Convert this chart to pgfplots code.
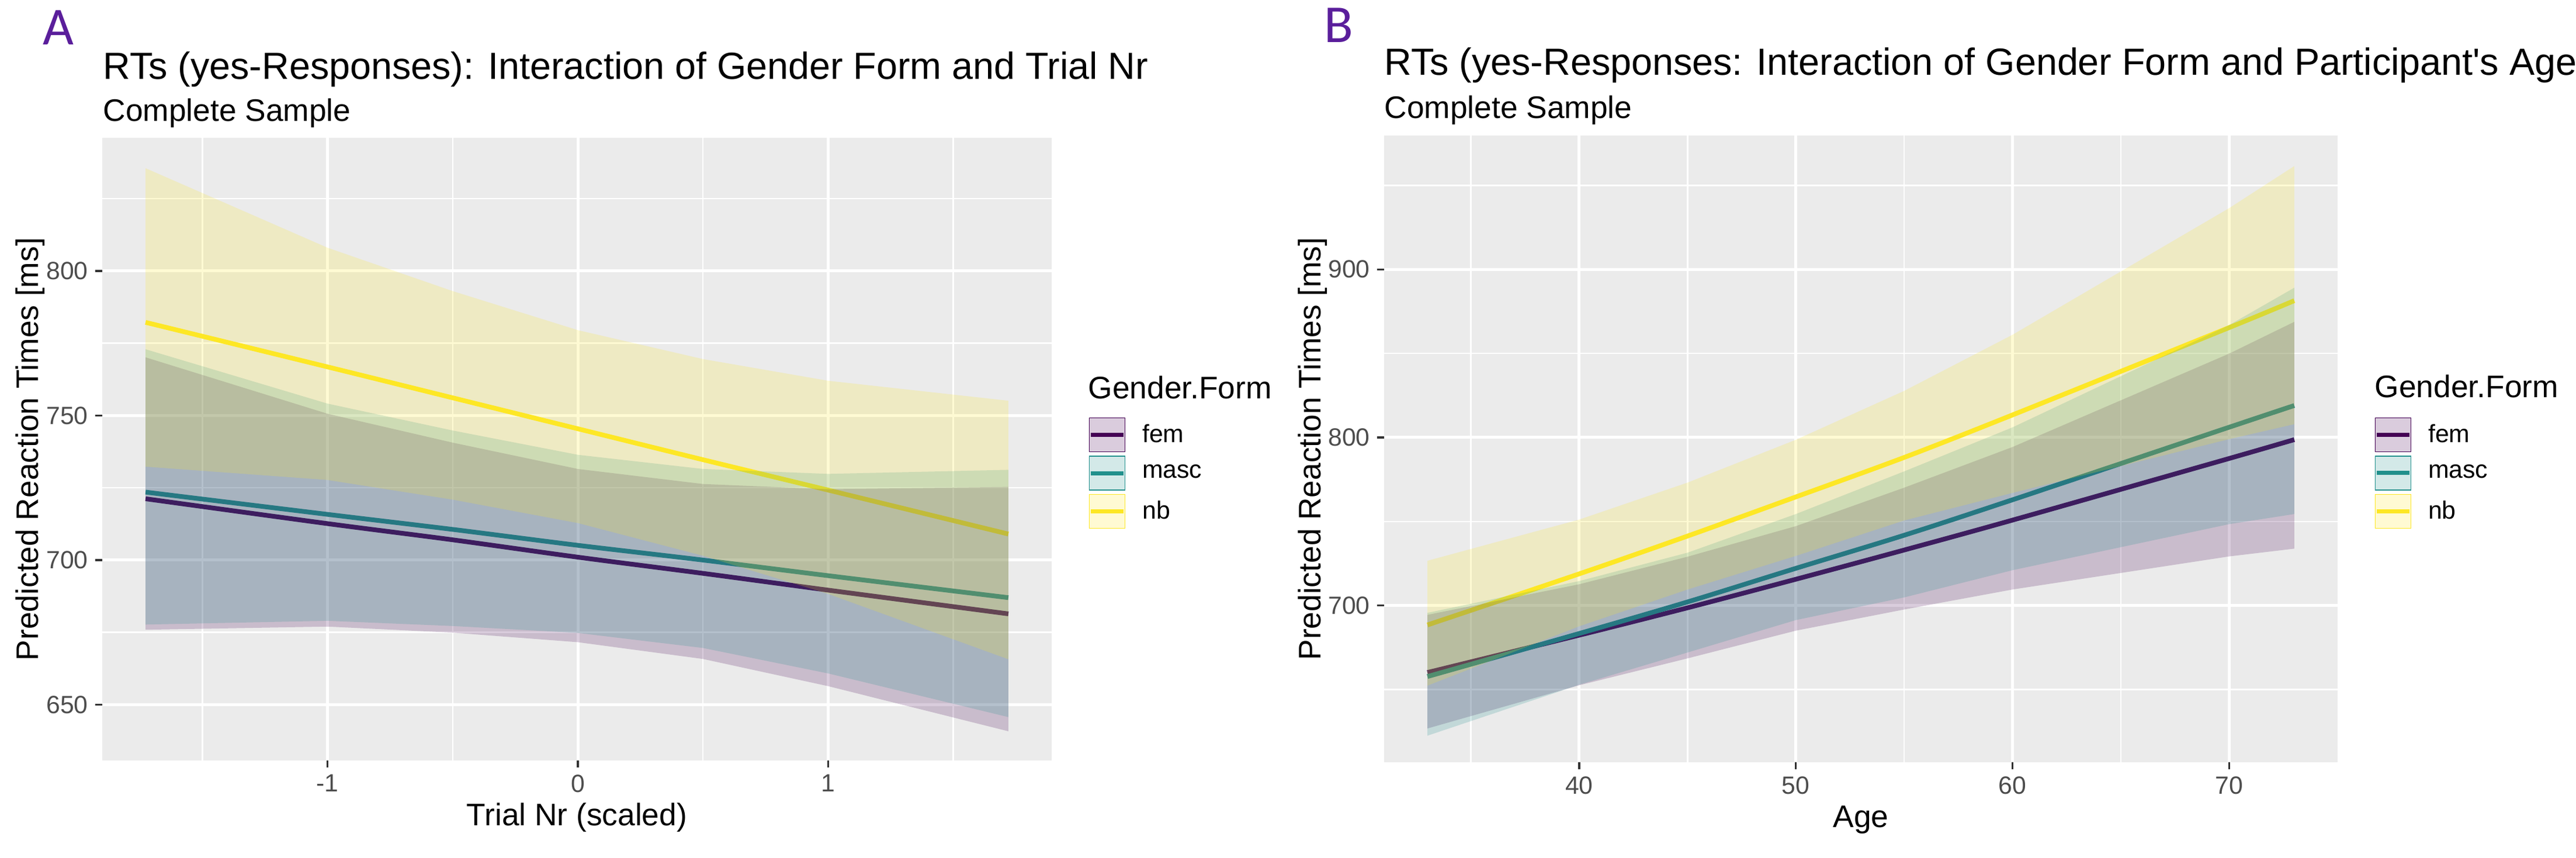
\documentclass[border=0pt]{standalone}
\usepackage{fontspec}
\setmainfont{Liberation Sans}[Ligatures=TeXOff]
\newfontfamily\tagfont{Carlito}
\usepackage{pgfplots}
\pgfplotsset{compat=1.18}
\definecolor{femc}{HTML}{440154}
\definecolor{mascc}{HTML}{21908C}
\definecolor{nbc}{HTML}{FDE725}
\definecolor{panelbg}{HTML}{EBEBEB}
\definecolor{tickc}{HTML}{333333}
\definecolor{ticklab}{HTML}{4D4D4D}
\definecolor{tagc}{HTML}{5A1E9B}

\pgfplotsset{
  ggstyle/.style={
    scale only axis, anchor=south west,
    axis background/.style={fill=panelbg},
    axis line style={draw=none},
    grid=both,
    major grid style={white, line width=0.5mm},
    minor grid style={white, line width=0.25mm},
    tick align=outside,
    xtick pos=left, ytick pos=left,
    major tick length=1.2mm, minor tick length=0pt,
    major tick style={color=tickc, line width=0.35mm},
    tick label style={font=\fontsize{12.15}{14}\selectfont, color=ticklab},
    /pgf/number format/assume math mode=true,
    label style={font=\fontsize{15.17}{17}\selectfont},
    xlabel style={at={([yshift=-11.1mm]axis description cs:0.5,0)}, anchor=base},
    ylabel style={at={([xshift=-10.9mm]axis description cs:0,0.5)}, anchor=base},
    legend style={draw=none, fill=none, inner sep=0pt, outer sep=0pt,
      anchor=north west, row sep=0.6mm,
      font=\fontsize{12.15}{14}\selectfont, nodes={inner sep=0pt}},
    legend cell align=left,
  },
  bandstyle/.style={draw=none, fill=#1, fill opacity=0.2, forget plot},
  linestyle/.style={draw=#1, line width=0.8mm, smooth, forget plot},
  keyfem/.style={legend image code/.code={
    \fill[femc, fill opacity=0.2] (0mm,-2.9mm) rectangle (6.07mm,2.9mm);
    \draw[femc, line width=0.7mm] (0.2mm,0mm) -- (5.87mm,0mm);
    \path (9.0mm,0mm);}},
  keymasc/.style={legend image code/.code={
    \fill[mascc, fill opacity=0.2] (0mm,-2.9mm) rectangle (6.07mm,2.9mm);
    \draw[mascc, line width=0.7mm] (0.2mm,0mm) -- (5.87mm,0mm);
    \path (9.0mm,0mm);}},
  keynb/.style={legend image code/.code={
    \fill[nbc, fill opacity=0.2] (0mm,-2.9mm) rectangle (6.07mm,2.9mm);
    \draw[nbc, line width=0.7mm] (0.2mm,0mm) -- (5.87mm,0mm);
    \path (9.0mm,0mm);}},
}

\begin{document}
\begin{tikzpicture}
\useasboundingbox (0,0) rectangle (440.9mm,-146.9mm);

% ---------- Panel A ----------
\node[anchor=base west, inner sep=0pt, text=tagc, font=\tagfont\fontsize{26}{28}\selectfont] at (7.3mm,-7.6mm) {A};
\node[anchor=base west, inner sep=0pt, font=\fontsize{18.4}{20}\selectfont] at (17.6mm,-13.5mm) {RTs (yes-Responses): Interaction of Gender Form and Trial Nr};
\node[anchor=base west, inner sep=0pt, font=\fontsize{15.17}{17}\selectfont] at (17.6mm,-20.7mm) {Complete Sample};
\node[anchor=base west, inner sep=0pt, font=\fontsize{15.17}{17}\selectfont] at (186.2mm,-68.2mm) {Gender.Form};

\begin{axis}[ggstyle,
  at={(17.5mm,-130.2mm)}, width=162.5mm, height=106.6mm,
  xmin=-1.90, xmax=1.893, ymin=630.7, ymax=846.0,
  xtick={-1,0,1}, minor xtick={-1.5,-0.5,0.5,1.5},
  ytick={650,700,750,800}, minor ytick={675,725,775,825},
  xlabel={Trial Nr (scaled)}, ylabel={Predicted Reaction Times [ms]},
  legend style={at={(1.0388,0.5507)}},
]
\addlegendimage{keyfem}\addlegendentry{fem}
\addlegendimage{keymasc}\addlegendentry{masc}
\addlegendimage{keynb}\addlegendentry{nb}
% lines
\addplot[linestyle=femc] coordinates {(-1.727,721.2) (-1,712.6) (-0.5,707.0) (0,701.0) (0.5,695.4) (1,689.6) (1.72,681.4)};
\addplot[linestyle=mascc] coordinates {(-1.727,723.5) (-1,715.8) (-0.5,710.6) (0,705.1) (0.5,700.0) (1,694.6) (1.72,687.0)};
\addplot[linestyle=nbc] coordinates {(-1.727,782.2) (-1,766.8) (-0.5,756.1) (0,745.4) (0.5,734.7) (1,724.2) (1.72,709.0)};
% ribbons (upper forward, lower backward)
\addplot[bandstyle=femc] coordinates {(-1.727,770.1) (-1,750.6) (-0.5,740.6) (0,731.5) (0.5,726.3) (1,724.5) (1.72,725.3)
  (1.72,640.8) (1,656.4) (0.5,665.8) (0,671.6) (-0.5,674.9) (-1,677.0) (-1.727,675.9)} -- cycle;
\addplot[bandstyle=mascc] coordinates {(-1.727,772.9) (-1,754.1) (-0.5,744.8) (0,736.4) (0.5,731.5) (1,729.8) (1.72,731.2)
  (1.72,645.7) (1,660.8) (0.5,669.6) (0,674.8) (-0.5,677.2) (-1,679.0) (-1.727,677.7)} -- cycle;
\addplot[bandstyle=nbc] coordinates {(-1.727,835.5) (-1,808.0) (-0.5,793.0) (0,779.5) (0.5,769.5) (1,762.0) (1.72,755.1)
  (1.72,665.7) (1,688.3) (0.5,701.5) (0,712.8) (-0.5,720.9) (-1,727.7) (-1.727,732.3)} -- cycle;
\end{axis}

% ---------- Panel B ----------
\node[anchor=base west, inner sep=0pt, text=tagc, font=\tagfont\fontsize{26}{28}\selectfont] at (226.6mm,-7.2mm) {B};
\node[anchor=base west, inner sep=0pt, font=\fontsize{18.4}{20}\selectfont] at (236.9mm,-12.8mm) {RTs (yes-Responses: Interaction of Gender Form and Participant's Age};
\node[anchor=base west, inner sep=0pt, font=\fontsize{15.17}{17}\selectfont] at (236.9mm,-20.2mm) {Complete Sample};
\node[anchor=base west, inner sep=0pt, font=\fontsize{15.17}{17}\selectfont] at (406.4mm,-68.0mm) {Gender.Form};

\begin{axis}[ggstyle,
  at={(236.9mm,-130.5mm)}, width=163.2mm, height=107.3mm,
  xmin=31, xmax=75, ymin=606.7, ymax=979.7,
  xtick={40,50,60,70}, minor xtick={35,45,55,65},
  ytick={700,800,900}, minor ytick={650,750,850,950},
  xlabel={Age}, ylabel={Predicted Reaction Times [ms]},
  legend style={at={(1.0386,0.550)}},
]
\addlegendimage{keyfem}\addlegendentry{fem}
\addlegendimage{keymasc}\addlegendentry{masc}
\addlegendimage{keynb}\addlegendentry{nb}
\addplot[linestyle=femc] coordinates {(33,660.1) (40,682.3) (45,698.6) (50,715.6) (55,733.0) (60,750.8) (70,787.5) (73,798.7)};
\addplot[linestyle=mascc] coordinates {(33,657.7) (40,683.3) (45,702.1) (50,722.1) (55,741.8) (60,762.9) (70,806.1) (73,819.0)};
\addplot[linestyle=nbc] coordinates {(33,688.4) (40,718.8) (45,741.3) (50,764.6) (55,788.1) (60,813.4) (70,865.4) (73,881.4)};
\addplot[bandstyle=femc] coordinates {(33,694.4) (40,712.6) (45,729.0) (50,747.2) (55,770.1) (60,794.3) (70,849.9) (73,868.8)
  (73,733.8) (70,729.2) (60,709.5) (55,697.6) (50,685.0) (45,668.5) (40,652.5) (33,626.8)} -- cycle;
\addplot[bandstyle=mascc] coordinates {(33,695.6) (40,714.5) (45,731.4) (50,754.4) (55,779.8) (60,806.0) (70,866.9) (73,889.1)
  (73,754.4) (70,748.4) (60,721.0) (55,704.8) (50,691.3) (45,672.0) (40,652.8) (33,622.5)} -- cycle;
\addplot[bandstyle=nbc] coordinates {(33,726.6) (40,751.1) (45,773.1) (50,798.6) (55,827.7) (60,861.1) (70,936.5) (73,961.5)
  (73,807.9) (70,799.0) (60,767.0) (55,750.6) (50,729.5) (45,709.5) (40,687.6) (33,652.3)} -- cycle;
\end{axis}
\end{tikzpicture}
\end{document}
